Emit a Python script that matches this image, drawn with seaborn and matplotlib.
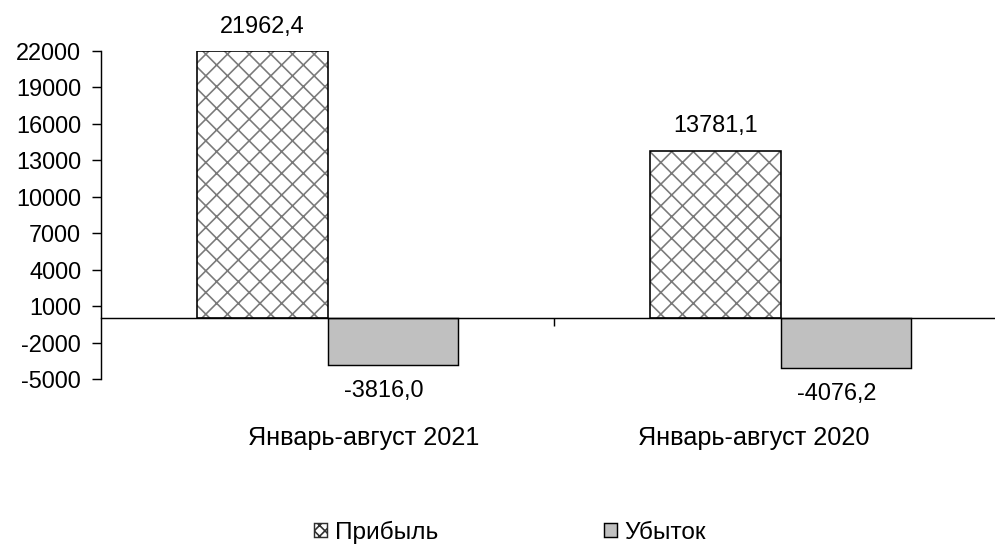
import matplotlib
matplotlib.use("Agg")
import matplotlib.pyplot as plt
import matplotlib.transforms as mtransforms
from matplotlib.patches import Patch, Rectangle
import seaborn as sns
import pandas as pd

# ---- data ----
categories = ["Январь-август 2021", "Январь-август 2020"]
series_names = ["Прибыль", "Убыток"]
profit = [21962.4, 13781.1]
loss = [-3816.0, -4076.2]
yticks = [-5000, -2000, 1000, 4000, 7000, 10000, 13000, 16000, 19000, 22000]

rows = []
for i, c in enumerate(categories):
    rows.append({"cat": c, "series": series_names[0], "value": profit[i]})
    rows.append({"cat": c, "series": series_names[1], "value": loss[i]})
df = pd.DataFrame(rows)

sns.set_theme(style="white")
plt.rcParams["font.family"] = ["Liberation Sans", "DejaVu Sans"]
plt.rcParams["hatch.linewidth"] = 0.9
plt.rcParams["text.color"] = "black"
plt.rcParams["xtick.color"] = "black"
plt.rcParams["ytick.color"] = "black"

DPI = 130
fig = plt.figure(figsize=(995 / DPI, 545 / DPI), dpi=DPI)
fig.patch.set_facecolor("white")
ax = fig.add_axes([101 / 995, 1 - 379 / 545, 906 / 995, 328 / 545])

palette = {series_names[0]: "white", series_names[1]: "#C0C0C0"}
sns.barplot(data=df, x="cat", y="value", hue="series", order=categories,
            hue_order=series_names, palette=palette, width=0.574,
            edgecolor="black", linewidth=0.8, ax=ax, legend=False,
            errorbar=None, saturation=1)

# hatch the profit bars (grey hatch, black outline drawn on top)
for bar in ax.containers[0]:
    bar.set_hatch("xx")
    bar.set_edgecolor("#7a7a7a")
    bar.set_linewidth(0)
    outline = Rectangle((bar.get_x(), bar.get_y()), bar.get_width(), bar.get_height(),
                        fill=False, edgecolor="black", linewidth=0.9, zorder=bar.get_zorder() + 0.1)
    ax.add_patch(outline)

FS_TICK = 13
FS_VAL = 13
FS_CAT = 14
fmt = lambda v: f"{v:.1f}".replace(".", ",")
for cont in ax.containers:
    for bar in cont:
        h = bar.get_height()
        xc = bar.get_x() + bar.get_width() / 2
        if h >= 0:
            ax.annotate(fmt(h), (xc, h), xytext=(0, 14), textcoords="offset points",
                        ha="center", va="center", fontsize=FS_VAL)
        else:
            ax.annotate(fmt(h), (xc, h), xytext=(-5, -14.5), textcoords="offset points",
                        ha="center", va="center", fontsize=FS_VAL)

ax.set_xlim(-0.5, 1.5)
ax.set_ylim(-5000, 22000)
ax.set_yticks(yticks)
ax.set_yticklabels([str(t) for t in yticks], fontsize=FS_TICK)
ax.set_xticks([0.5])
ax.set_xticklabels([""])
ax.set_xlabel("")
ax.set_ylabel("")

ax.spines["top"].set_visible(False)
ax.spines["right"].set_visible(False)
ax.spines["bottom"].set_position(("data", 0))
for s in ("left", "bottom"):
    ax.spines[s].set_color("black")
    ax.spines[s].set_linewidth(0.8)
ax.tick_params(axis="y", left=True, direction="out", length=5, width=0.8, color="black", pad=6)
ax.tick_params(axis="x", bottom=True, direction="out", length=4.5, width=0.8, color="black")
ax.grid(False)

# category labels (pulled slightly toward the middle, as in the original)
label_shift = [0.08, -0.06]
trans = mtransforms.blended_transform_factory(ax.transData, ax.transAxes)
for i, c in enumerate(categories):
    ax.text(i + label_shift[i], -0.18, c, transform=trans, ha="center", va="center", fontsize=FS_CAT)

handles = [Patch(facecolor="white", edgecolor="#303030", hatch="xxxx", linewidth=0.8),
           Patch(facecolor="#C0C0C0", edgecolor="black", linewidth=0.8)]
fig.legend(handles, series_names, loc="center", bbox_to_anchor=(510 / 995, 1 - 532 / 545),
           ncol=2, frameon=False, fontsize=13.5, handlelength=0.55, handleheight=0.55,
           handletextpad=0.3, columnspacing=6.8, borderaxespad=0, borderpad=0)

fig.savefig("out.png", dpi=DPI, facecolor="white")
